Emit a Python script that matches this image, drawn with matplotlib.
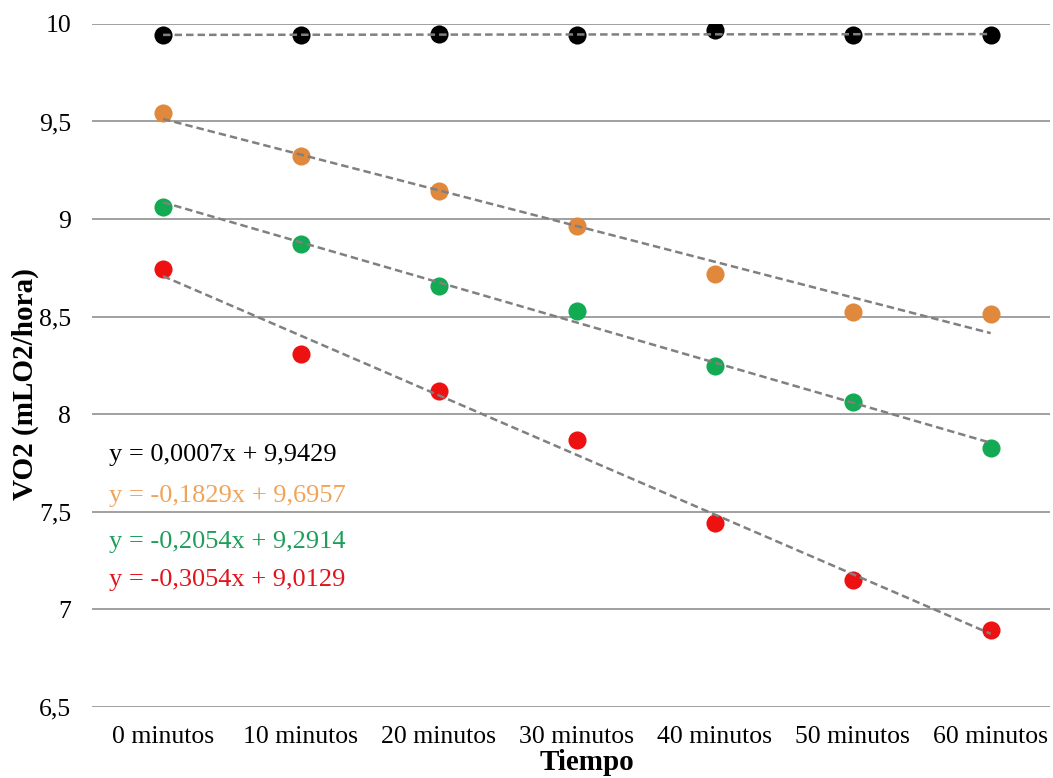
import matplotlib as mpl
mpl.use('agg')
import matplotlib.pyplot as plt
import numpy as np

# tiempos y valores de VO2
tiempos = ['0 minutos', '10 minutos', '20 minutos', '30 minutos',
           '40 minutos', '50 minutos', '60 minutos']
vo2_negro = [9.944, 9.944, 9.946, 9.944, 9.969, 9.944, 9.944]
vo2_naranja = [9.544, 9.323, 9.144, 8.965, 8.719, 8.524, 8.514]
vo2_verde = [9.062, 8.872, 8.657, 8.529, 8.247, 8.063, 7.827]
vo2_rojo = [8.744, 8.309, 8.119, 7.868, 7.442, 7.150, 6.894]

# pendiente, ordenada de las lineas de tendencia
tend_negro = (0.0007, 9.9429)
tend_naranja = (-0.1829, 9.6957)
tend_verde = (-0.2054, 9.2914)
tend_rojo = (-0.3054, 9.0129)

series = [
    (vo2_negro, tend_negro, '#000000', '#000000'),
    (vo2_naranja, tend_naranja, '#E0883C', '#F0A45A'),
    (vo2_verde, tend_verde, '#12AA52', '#1E9E5A'),
    (vo2_rojo, tend_rojo, '#EE1111', '#E0141E'),
]

plt.rcParams['font.family'] = ['Liberation Serif', 'DejaVu Serif']

fig = plt.figure(figsize=(10.53, 7.78), dpi=100)
ax = fig.add_axes([0.0874, 0.0913, 0.9097, 0.878])

x = np.arange(len(tiempos))
for vals, (m, b), col, _ in series:
    ax.scatter(x, vals, s=170, color=col, zorder=3, linewidths=0)
for vals, (m, b), col, _ in series:
    xt = x + 1
    ax.plot(x, m * xt + b, ls=(0, (3, 1.6)), color='#808080', lw=1.8, zorder=4)

ypos = [455, 496, 542, 580]
for (vals, (m, b), col, tcol), yp in zip(series, ypos):
    txt = 'y = %sx + %s' % (('%.4f' % m).replace('.', ','), ('%.4f' % b).replace('.', ','))
    fig.text(109 / 1053, 1 - yp / 778, txt, color=tcol, fontsize=19, va='center', ha='left')

ax.set_ylim(6.5, 10)
ax.set_yticks(np.arange(6.5, 10.01, 0.5))
ax.set_yticklabels(['6,5', '7', '7,5', '8', '8,5', '9', '9,5', '10'])
ax.set_xlim(-0.515, 6.43)
ax.set_xticks(x)
ax.set_xticklabels(tiempos)
ax.grid(axis='y', color='#999999', lw=1.3)
ax.set_axisbelow(True)
for s in ax.spines.values():
    s.set_visible(False)
ax.tick_params(length=0, labelsize=18.5)
ax.tick_params(axis='x', pad=14)
ax.tick_params(axis='y', pad=15)

fig.text(25 / 1053, 1 - 384 / 778, 'VO2 (mLO2/hora)', fontsize=21, fontweight='bold',
         rotation=90, ha='center', va='center')
fig.text(587 / 1053, 2 / 778, 'Tiempo', fontsize=21, fontweight='bold',
         ha='center', va='bottom')

fig.savefig('out.png', dpi=100)
